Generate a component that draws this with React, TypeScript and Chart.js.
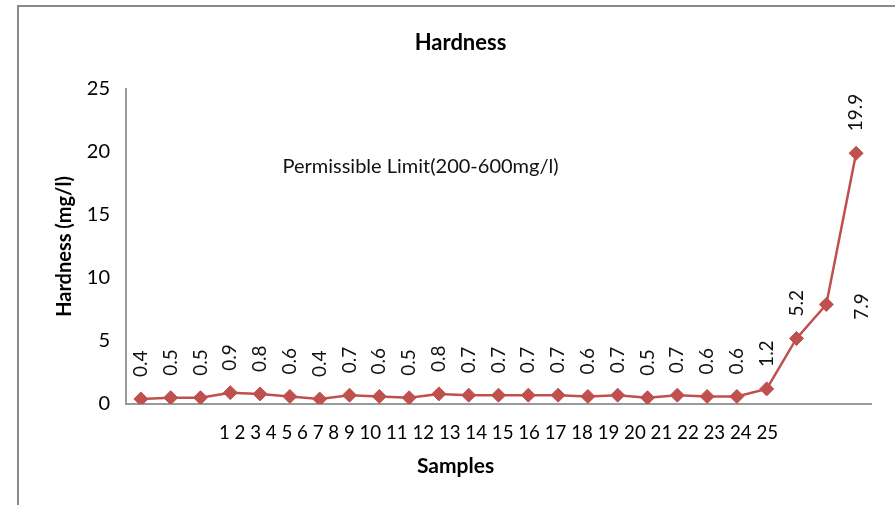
import React, { useEffect, useRef } from "react";
import { Chart, registerables } from "chart.js";

Chart.register(...registerables);

const samples: string[] = [
  "1", "2", "3", "4", "5", "6", "7", "8", "9", "10", "11", "12", "13",
  "14", "15", "16", "17", "18", "19", "20", "21", "22", "23", "24", "25",
];
const hardness: number[] = [
  0.4, 0.5, 0.5, 0.9, 0.8, 0.6, 0.4, 0.7, 0.6, 0.5, 0.8, 0.7, 0.7,
  0.7, 0.7, 0.6, 0.7, 0.5, 0.7, 0.6, 0.6, 1.2, 5.2, 7.9, 19.9,
];
const yTicks: number[] = [0, 5, 10, 15, 20, 25];
const chartTitle = "Hardness";
const xTitle = "Samples";
const yTitle = "Hardness (mg/l)";
const noteText = "Permissible Limit(200-600mg/l)";

const FONT = "Lato, 'Open Sans', sans-serif";
const LINE_COLOR = "#c0504d";
const AXIS_COLOR = "#9a9a9a";

const textPlugin = {
  id: "textPlugin",
  afterDatasetsDraw(chart: any) {
    const { ctx, chartArea } = chart;
    const meta = chart.getDatasetMeta(0);
    const xs = chart.scales.x;
    const ys = chart.scales.y;
    ctx.save();
    ctx.fillStyle = "#111";
    // data labels
    ctx.font = `19px ${FONT}`;
    meta.data.forEach((pt: any, i: number) => {
      const v = hardness[i];
      const next = meta.data[i + 1];
      let steep = false;
      if (next) {
        const slope = (next.y - pt.y) / (next.x - pt.x);
        steep = slope < -3;
      }
      ctx.save();
      if (steep) {
        ctx.translate(pt.x + 36, pt.y + 2);
        ctx.rotate(-Math.PI / 2);
        ctx.textAlign = "center";
      } else {
        ctx.translate(pt.x, pt.y - 22);
        ctx.rotate(-Math.PI / 2);
        ctx.textAlign = "left";
      }
      ctx.textBaseline = "middle";
      ctx.fillText(v.toFixed(1), 0, 0);
      ctx.restore();
    });
    // annotation
    ctx.font = `20px ${FONT}`;
    ctx.textAlign = "left";
    ctx.textBaseline = "middle";
    ctx.fillText(noteText, xs.getPixelForValue(4.75), ys.getPixelForValue(18.85));
    // chart title
    ctx.fillStyle = "#000";
    ctx.font = `bold 22px ${FONT}`;
    ctx.textAlign = "center";
    ctx.fillText(chartTitle, (chartArea.left + chartArea.right) / 2 - 38, 43);
    // x title
    ctx.font = `bold 21px ${FONT}`;
    ctx.fillText(xTitle, (chartArea.left + chartArea.right) / 2 - 43, 466);
    ctx.restore();
  },
};

export default function App() {
  const ref = useRef<HTMLCanvasElement | null>(null);
  useEffect(() => {
    if (!ref.current) return;
    const mid = Math.floor(samples.length / 2);
    const chart = new Chart(ref.current, {
      type: "line",
      data: {
        labels: samples,
        datasets: [
          {
            data: hardness,
            borderColor: LINE_COLOR,
            backgroundColor: LINE_COLOR,
            borderWidth: 2.5,
            pointStyle: "rectRot",
            pointRadius: 7,
            pointBorderWidth: 1,
            pointBackgroundColor: LINE_COLOR,
            pointBorderColor: LINE_COLOR,
            tension: 0,
          },
        ],
      },
      options: {
        responsive: false,
        animation: false,
        events: [],
        layout: { padding: { left: 26, right: 24, top: 89, bottom: 0 } },
        plugins: {
          legend: { display: false },
          title: { display: false },
          tooltip: { enabled: false },
        },
        scales: {
          x: {
            type: "category",
            offset: true,
            grid: { display: false, drawTicks: false },
            border: { display: true, color: AXIS_COLOR, width: 2 },
            ticks: {
              autoSkip: false,
              maxRotation: 0,
              minRotation: 0,
              padding: 18,
              color: "#000",
              font: { family: FONT, size: 18.7 },
              callback: (_v: any, i: number) => (i === mid ? samples.join(" ") : ""),
            },
            afterFit: (s: any) => {
              s.height = 101;
            },
          },
          y: {
            min: 0,
            max: 25,
            grid: { display: false, drawTicks: false },
            border: { display: true, color: AXIS_COLOR, width: 2 },
            afterBuildTicks: (s: any) => {
              s.ticks = yTicks.map((v) => ({ value: v }));
            },
            ticks: {
              padding: 16,
              color: "#000",
              font: { family: FONT, size: 20 },
            },
            title: {
              display: true,
              text: yTitle,
              color: "#000",
              font: { family: FONT, size: 20, weight: "bold" },
              padding: { top: 27, bottom: 0 },
            },
            afterFit: (s: any) => {
              s.width = 100;
            },
          },
        },
      },
      plugins: [textPlugin],
    });
    return () => chart.destroy();
  }, []);
  return (
    <div
      style={{
        position: "fixed",
        left: 0,
        top: 0,
        width: 895,
        height: 505,
        overflow: "hidden",
        background: "#fff",
      }}
    >
      <div
        style={{
          position: "absolute",
          left: 17,
          top: 5,
          width: 1000,
          height: 1000,
          borderLeft: "2px solid #8a8a8a",
          borderTop: "2px solid #8a8a8a",
        }}
      />
      <canvas
        ref={ref}
        width={895}
        height={505}
        style={{ position: "absolute", left: 0, top: 0, width: 895, height: 505 }}
      />
    </div>
  );
}
